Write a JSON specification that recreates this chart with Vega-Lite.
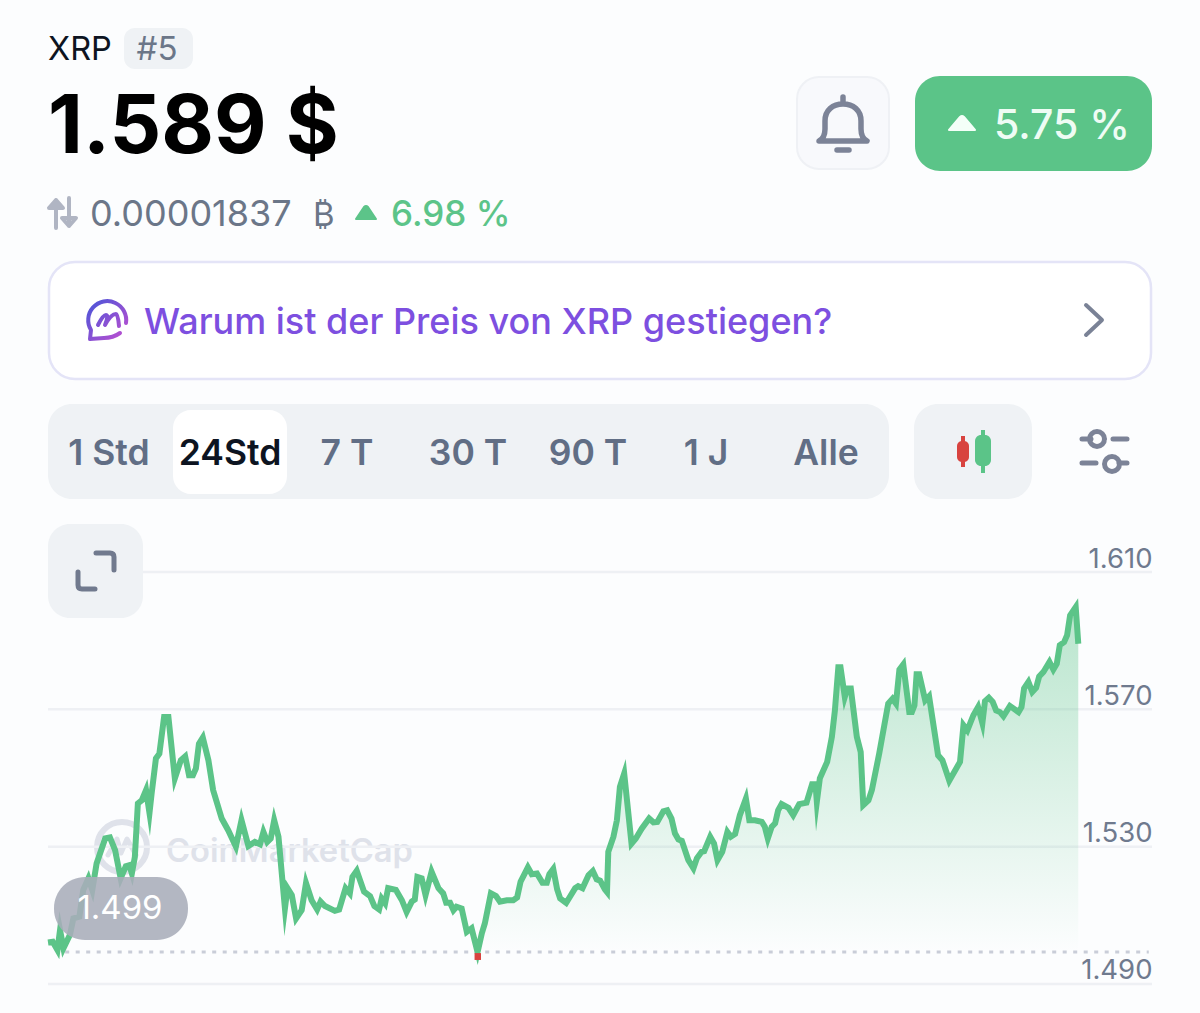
{
  "$schema": "https://vega.github.io/schema/vega-lite/v6.json",
  "width": 1200,
  "height": 1013,
  "autosize": "none",
  "padding": 0,
  "background": "#fcfdfe",
  "datasets": {
    "grid": [{"price": 1.49}, {"price": 1.53}, {"price": 1.57}, {"price": 1.61}],
    "xrp": [
      {"t":0,"price":1.5021},{"t":0.11,"price":1.5023},{"t":0.22,"price":1.4999},{"t":0.28,"price":1.5057},{"t":0.36,"price":1.5004},{"t":0.51,"price":1.5043},{"t":0.59,"price":1.5091},{"t":0.73,"price":1.5096},{"t":0.82,"price":1.5174},{"t":0.94,"price":1.5208},
      {"t":1.03,"price":1.5174},{"t":1.13,"price":1.5251},{"t":1.33,"price":1.5324},{"t":1.44,"price":1.5327},{"t":1.56,"price":1.529},{"t":1.69,"price":1.5208},{"t":1.81,"price":1.5243},{"t":1.89,"price":1.5246},{"t":1.95,"price":1.5222},{"t":2.02,"price":1.527},
      {"t":2.09,"price":1.5426},{"t":2.18,"price":1.5435},{"t":2.28,"price":1.5465},{"t":2.36,"price":1.5398},{"t":2.41,"price":1.5455},{"t":2.51,"price":1.5557},{"t":2.59,"price":1.5571},{"t":2.7,"price":1.5678},{"t":2.8,"price":1.5678},{"t":2.95,"price":1.5499},
      {"t":3.09,"price":1.5552},{"t":3.19,"price":1.5563},{"t":3.28,"price":1.5508},{"t":3.37,"price":1.5508},{"t":3.44,"price":1.5528},{"t":3.51,"price":1.56},{"t":3.6,"price":1.5618},{"t":3.73,"price":1.5552},{"t":3.84,"price":1.5465},{"t":4.04,"price":1.5382},
      {"t":4.19,"price":1.5348},{"t":4.37,"price":1.53},{"t":4.5,"price":1.5377},{"t":4.66,"price":1.5302},{"t":4.81,"price":1.5314},{"t":4.93,"price":1.5307},{"t":5.01,"price":1.5343},{"t":5.1,"price":1.5314},{"t":5.18,"price":1.5324},{"t":5.26,"price":1.5377},
      {"t":5.36,"price":1.5329},{"t":5.51,"price":1.512},{"t":5.57,"price":1.5179},{"t":5.67,"price":1.5159},{"t":5.77,"price":1.5091},{"t":5.9,"price":1.5115},{"t":6,"price":1.5194},{"t":6.13,"price":1.5144},{"t":6.26,"price":1.5117},{"t":6.34,"price":1.514},
      {"t":6.44,"price":1.5127},{"t":6.67,"price":1.5113},{"t":6.77,"price":1.5117},{"t":6.92,"price":1.5179},{"t":7.02,"price":1.5164},{"t":7.08,"price":1.5212},{"t":7.18,"price":1.523},{"t":7.35,"price":1.5169},{"t":7.49,"price":1.5156},{"t":7.59,"price":1.5127},
      {"t":7.7,"price":1.5117},{"t":7.76,"price":1.5149},{"t":7.84,"price":1.5135},{"t":7.91,"price":1.5179},{"t":8.09,"price":1.5174},{"t":8.23,"price":1.5144},{"t":8.34,"price":1.511},{"t":8.46,"price":1.514},{"t":8.53,"price":1.5146},{"t":8.59,"price":1.5212},
      {"t":8.69,"price":1.5208},{"t":8.78,"price":1.5159},{"t":8.92,"price":1.5227},{"t":9.08,"price":1.5179},{"t":9.19,"price":1.5164},{"t":9.26,"price":1.5137},{"t":9.35,"price":1.5137},{"t":9.43,"price":1.5115},{"t":9.5,"price":1.5125},{"t":9.62,"price":1.512},
      {"t":9.74,"price":1.5052},{"t":9.85,"price":1.5062},{"t":9.99,"price":1.4993},{"t":10.09,"price":1.5048},{"t":10.16,"price":1.5077},{"t":10.3,"price":1.5164},{"t":10.42,"price":1.5156},{"t":10.51,"price":1.514},{"t":10.67,"price":1.5144},{"t":10.82,"price":1.5144},
      {"t":10.91,"price":1.5152},{"t":10.99,"price":1.5198},{"t":11.16,"price":1.524},{"t":11.25,"price":1.522},{"t":11.37,"price":1.5222},{"t":11.5,"price":1.5195},{"t":11.6,"price":1.5195},{"t":11.66,"price":1.522},{"t":11.75,"price":1.5235},{"t":11.84,"price":1.5176},
      {"t":11.91,"price":1.5149},{"t":12.05,"price":1.5136},{"t":12.26,"price":1.5179},{"t":12.33,"price":1.5185},{"t":12.43,"price":1.5179},{"t":12.57,"price":1.5217},{"t":12.67,"price":1.5229},{"t":12.76,"price":1.5205},{"t":12.84,"price":1.5201},{"t":12.95,"price":1.5176},
      {"t":13,"price":1.5168},{"t":13.03,"price":1.5285},{"t":13.15,"price":1.5329},{"t":13.23,"price":1.5377},{"t":13.3,"price":1.5474},{"t":13.4,"price":1.5513},{"t":13.57,"price":1.5309},{"t":13.67,"price":1.5324},{"t":13.81,"price":1.5353},{"t":13.98,"price":1.5382},
      {"t":14.08,"price":1.5371},{"t":14.17,"price":1.5372},{"t":14.31,"price":1.5403},{"t":14.4,"price":1.5406},{"t":14.5,"price":1.5382},{"t":14.58,"price":1.5339},{"t":14.66,"price":1.5321},{"t":14.74,"price":1.5317},{"t":14.89,"price":1.5261},{"t":15.01,"price":1.5237},
      {"t":15.09,"price":1.5266},{"t":15.2,"price":1.5285},{"t":15.26,"price":1.5287},{"t":15.4,"price":1.5329},{"t":15.49,"price":1.5309},{"t":15.57,"price":1.5261},{"t":15.68,"price":1.5285},{"t":15.8,"price":1.5343},{"t":15.88,"price":1.5329},{"t":15.98,"price":1.5337},
      {"t":16.09,"price":1.5392},{"t":16.23,"price":1.544},{"t":16.31,"price":1.5377},{"t":16.44,"price":1.5377},{"t":16.6,"price":1.5372},{"t":16.67,"price":1.5358},{"t":16.74,"price":1.5324},{"t":16.83,"price":1.5358},{"t":16.91,"price":1.5368},{"t":16.98,"price":1.5406},
      {"t":17.06,"price":1.5424},{"t":17.22,"price":1.5413},{"t":17.33,"price":1.5392},{"t":17.47,"price":1.5424},{"t":17.64,"price":1.5428},{"t":17.77,"price":1.5482},{"t":17.85,"price":1.5482},{"t":17.88,"price":1.5431},{"t":17.95,"price":1.5499},{"t":18.12,"price":1.5547},
      {"t":18.23,"price":1.562},{"t":18.3,"price":1.5697},{"t":18.38,"price":1.5823},{"t":18.43,"price":1.5823},{"t":18.53,"price":1.5736},{"t":18.59,"price":1.5761},{"t":18.67,"price":1.5761},{"t":18.81,"price":1.562},{"t":18.9,"price":1.5576},{"t":18.96,"price":1.5421},
      {"t":19.08,"price":1.5435},{"t":19.16,"price":1.5465},{"t":19.33,"price":1.5571},{"t":19.54,"price":1.5717},{"t":19.64,"price":1.5731},{"t":19.72,"price":1.5717},{"t":19.8,"price":1.5816},{"t":19.89,"price":1.5831},{"t":20.03,"price":1.5692},{"t":20.09,"price":1.5692},
      {"t":20.15,"price":1.5712},{"t":20.2,"price":1.5802},{"t":20.26,"price":1.5802},{"t":20.4,"price":1.5726},{"t":20.49,"price":1.5738},{"t":20.7,"price":1.5566},{"t":20.8,"price":1.5552},{"t":20.96,"price":1.5492},{"t":21.21,"price":1.5547},{"t":21.29,"price":1.5654},
      {"t":21.38,"price":1.5639},{"t":21.52,"price":1.5683},{"t":21.63,"price":1.5707},{"t":21.73,"price":1.566},{"t":21.79,"price":1.5724},{"t":21.88,"price":1.5734},{"t":21.97,"price":1.5722},{"t":22.05,"price":1.5697},{"t":22.14,"price":1.5692},{"t":22.22,"price":1.568},
      {"t":22.37,"price":1.571},{"t":22.57,"price":1.5692},{"t":22.64,"price":1.5707},{"t":22.7,"price":1.5761},{"t":22.8,"price":1.578},{"t":22.89,"price":1.5751},{"t":22.98,"price":1.5763},{"t":23.05,"price":1.5796},{"t":23.15,"price":1.5809},{"t":23.29,"price":1.5838},
      {"t":23.38,"price":1.5816},{"t":23.46,"price":1.5833},{"t":23.53,"price":1.5887},{"t":23.63,"price":1.5896},{"t":23.7,"price":1.5916},{"t":23.77,"price":1.5974},{"t":23.9,"price":1.5998},{"t":23.96,"price":1.5891}
    ]
  },
  "layer": [
    {
      "data": {"values": [{}]},
      "layer": [
        {"mark": {"type": "rect", "fill": "#eff2f5", "cornerRadius": 11}, "encoding": {"x": {"datum": 124, "scale": {"domain": [0, 1200], "nice": false}}, "x2": {"datum": 193}, "y": {"datum": 28, "scale": {"domain": [1013, 0], "nice": false}}, "y2": {"datum": 69}}},
        {"mark": {"type": "text", "text": "XRP", "fontSize": 32.5, "align": "left", "color": "#0d1421"}, "encoding": {"x": {"datum": 48}, "y": {"datum": 60}}},
        {"mark": {"type": "text", "text": "#5", "fontSize": 33, "align": "center", "color": "#6b7688"}, "encoding": {"x": {"datum": 157}, "y": {"datum": 60}}},
        {"mark": {"type": "text", "text": "1.589 $", "fontSize": 81, "fontWeight": 700, "align": "left", "color": "#000000"}, "encoding": {"x": {"datum": 48}, "y": {"datum": 153}}},
        {"mark": {"type": "point", "shape": "M-6,15 L-6,-13 M-13,-5 L-6,-13 L1,-5 Z M7,-15 L7,13 M0,5 L7,13 L14,5 Z", "stroke": "#b0b5c3", "strokeWidth": 4}, "encoding": {"x": {"datum": 62}, "y": {"datum": 213}}},
        {"mark": {"type": "text", "text": "0.00001837", "fontSize": 36, "align": "left", "color": "#6b7688"}, "encoding": {"x": {"datum": 90}, "y": {"datum": 226}}},
        {"mark": {"type": "text", "text": "₿", "fontSize": 33, "align": "left", "color": "#6b7688"}, "encoding": {"x": {"datum": 313}, "y": {"datum": 226}}},
        {"mark": {"type": "point", "shape": "M-10,7 L-2,-5 Q0,-7 2,-5 L10,7 Z", "filled": true, "fill": "#5cc489", "stroke": "#5cc489", "strokeWidth": 2}, "encoding": {"x": {"datum": 366}, "y": {"datum": 212}}},
        {"mark": {"type": "text", "text": "6.98 %", "fontSize": 35, "fontWeight": 500, "align": "left", "color": "#5cc489"}, "encoding": {"x": {"datum": 391}, "y": {"datum": 226}}},

        {"mark": {"type": "rect", "fill": "#f8f9fc", "stroke": "#eff1f5", "strokeWidth": 2, "cornerRadius": 22}, "encoding": {"x": {"datum": 797}, "x2": {"datum": 889}, "y": {"datum": 77}, "y2": {"datum": 169}}},
        {"mark": {"type": "point", "shape": "M-24,16 C-20,14 -18,10 -18,4 L-18,-4 C-18,-15 -10,-21 0,-21 C10,-21 18,-15 18,-4 L18,4 C18,10 20,14 24,16 Z M0,-21 L0,-28 M-6,25 L6,25", "stroke": "#7c8397", "strokeWidth": 5.5}, "encoding": {"x": {"datum": 843}, "y": {"datum": 125}}},
        {"mark": {"type": "rect", "fill": "#5bc488", "cornerRadius": 25}, "encoding": {"x": {"datum": 915}, "x2": {"datum": 1152}, "y": {"datum": 76}, "y2": {"datum": 171}}},
        {"mark": {"type": "point", "shape": "M-13,7 L-2,-6 Q0,-8 2,-6 L13,7 Z", "filled": true, "fill": "#f4fff8", "stroke": "#f4fff8", "strokeWidth": 2}, "encoding": {"x": {"datum": 962}, "y": {"datum": 123}}},
        {"mark": {"type": "text", "text": "5.75 %", "fontSize": 41, "fontWeight": 500, "align": "left", "color": "#eefcf4"}, "encoding": {"x": {"datum": 994}, "y": {"datum": 139}}},

        {"mark": {"type": "rect", "fill": "#ffffff", "stroke": "#e4e4f7", "strokeWidth": 2.5, "cornerRadius": 26}, "encoding": {"x": {"datum": 49}, "x2": {"datum": 1151}, "y": {"datum": 262}, "y2": {"datum": 379}}},
        {"mark": {"type": "point", "shape": "M-16,10 A19,19 0 1 1 19,3 M13,13 Q6,18 -3,18 L-17,19 L-16,10 M-9,5 Q-4,-5 -1,-5 Q2,-5 -2,5 Q4,-6 9,-6 Q11,-6 12,6", "strokeWidth": 4, "stroke": {"gradient": "linear", "x1": 0, "y1": 0, "x2": 1, "y2": 1, "stops": [{"offset": 0, "color": "#4a55d8"}, {"offset": 1, "color": "#c04fd0"}]}}, "encoding": {"x": {"datum": 107}, "y": {"datum": 320}}},
        {"mark": {"type": "text", "text": "Warum ist der Preis von XRP gestiegen?", "fontSize": 36, "fontWeight": 500, "align": "left", "color": "#7d4fe0"}, "encoding": {"x": {"datum": 144}, "y": {"datum": 334}}},
        {"mark": {"type": "point", "shape": "M-8,-15 L8,0 L-8,15", "stroke": "#7a8296", "strokeWidth": 4}, "encoding": {"x": {"datum": 1094}, "y": {"datum": 320}}},

        {"mark": {"type": "rect", "fill": "#eff2f5", "cornerRadius": 24}, "encoding": {"x": {"datum": 48}, "x2": {"datum": 889}, "y": {"datum": 404}, "y2": {"datum": 499}}},
        {"mark": {"type": "rect", "fill": "#ffffff", "cornerRadius": 18}, "encoding": {"x": {"datum": 173}, "x2": {"datum": 287}, "y": {"datum": 410}, "y2": {"datum": 494}}},
        {"mark": {"type": "text", "text": "1 Std", "fontSize": 35.5, "fontWeight": 600, "align": "center", "color": "#616e85"}, "encoding": {"x": {"datum": 109}, "y": {"datum": 465}}},
        {"mark": {"type": "text", "text": "24Std", "fontSize": 35.5, "fontWeight": 600, "align": "center", "color": "#0d1421"}, "encoding": {"x": {"datum": 230}, "y": {"datum": 465}}},
        {"mark": {"type": "text", "text": "7 T", "fontSize": 35.5, "fontWeight": 600, "align": "center", "color": "#616e85"}, "encoding": {"x": {"datum": 347}, "y": {"datum": 465}}},
        {"mark": {"type": "text", "text": "30 T", "fontSize": 35.5, "fontWeight": 600, "align": "center", "color": "#616e85"}, "encoding": {"x": {"datum": 468}, "y": {"datum": 465}}},
        {"mark": {"type": "text", "text": "90 T", "fontSize": 35.5, "fontWeight": 600, "align": "center", "color": "#616e85"}, "encoding": {"x": {"datum": 588}, "y": {"datum": 465}}},
        {"mark": {"type": "text", "text": "1 J", "fontSize": 35.5, "fontWeight": 600, "align": "center", "color": "#616e85"}, "encoding": {"x": {"datum": 706}, "y": {"datum": 465}}},
        {"mark": {"type": "text", "text": "Alle", "fontSize": 35.5, "fontWeight": 600, "align": "center", "color": "#616e85"}, "encoding": {"x": {"datum": 826}, "y": {"datum": 465}}},

        {"mark": {"type": "rect", "fill": "#eff2f5", "cornerRadius": 24}, "encoding": {"x": {"datum": 914}, "x2": {"datum": 1032}, "y": {"datum": 404}, "y2": {"datum": 499}}},
        {"mark": {"type": "rule", "stroke": "#d8433f", "strokeWidth": 4}, "encoding": {"x": {"datum": 963}, "y": {"datum": 436}, "y2": {"datum": 467}}},
        {"mark": {"type": "rect", "fill": "#d8433f", "cornerRadius": 5}, "encoding": {"x": {"datum": 957}, "x2": {"datum": 969}, "y": {"datum": 441}, "y2": {"datum": 462}}},
        {"mark": {"type": "rule", "stroke": "#5bc488", "strokeWidth": 4}, "encoding": {"x": {"datum": 983}, "y": {"datum": 430}, "y2": {"datum": 473}}},
        {"mark": {"type": "rect", "fill": "#5bc488", "cornerRadius": 6}, "encoding": {"x": {"datum": 975}, "x2": {"datum": 991}, "y": {"datum": 435}, "y2": {"datum": 466}}},
        {"mark": {"type": "point", "shape": "M-22,-12 L-13,-12 M9,-12 L23,-12 M-22,12 L-8,12 M15,12 L23,12", "stroke": "#7c8397", "strokeWidth": 5}, "encoding": {"x": {"datum": 1104}, "y": {"datum": 451}}},
        {"mark": {"type": "point", "shape": "circle", "size": 225, "stroke": "#7c8397", "strokeWidth": 5}, "encoding": {"x": {"datum": 1097}, "y": {"datum": 439}}},
        {"mark": {"type": "point", "shape": "circle", "size": 225, "stroke": "#7c8397", "strokeWidth": 5}, "encoding": {"x": {"datum": 1112}, "y": {"datum": 464}}},

        {"mark": {"type": "point", "shape": "circle", "size": 2500, "stroke": "#dfe2ea", "strokeWidth": 6}, "encoding": {"x": {"datum": 122}, "y": {"datum": 847}}},
        {"mark": {"type": "point", "shape": "M-14,7 L-5,-9 L-1,5 L5,-9 L14,7", "stroke": "#dfe2ea", "strokeWidth": 5}, "encoding": {"x": {"datum": 122}, "y": {"datum": 848}}},
        {"mark": {"type": "text", "text": "CoinMarketCap", "fontSize": 32.7, "fontWeight": 600, "align": "left", "color": "#dfe2ea"}, "encoding": {"x": {"datum": 166}, "y": {"datum": 862}}}
      ]
    },
    {
      "layer": [
        {
          "data": {"name": "grid"},
          "mark": {"type": "rule", "stroke": "#eef0f4", "strokeWidth": 2.5},
          "encoding": {
            "x": {"datum": 0, "axis": null, "scale": {"domain": [-1.11628, 26.7907], "nice": false}},
            "x2": {"datum": 25.674},
            "y": {
              "field": "price",
              "type": "quantitative",
              "scale": {"domain": [1.48155, 1.77664], "nice": false, "zero": false},
              "axis": {"orient": "right", "values": [1.49, 1.53, 1.57, 1.61], "format": ".3f", "title": null, "domain": false, "ticks": false, "grid": false, "labels": true, "labelAlign": "right", "labelBaseline": "alphabetic", "labelPadding": -48, "labelOffset": -5, "labelFontSize": 27.5, "labelColor": "#6f7a8e", "labelFont": "Inter"}
            }
          }
        },
        {
          "data": {"name": "xrp"},
          "transform": [{"filter": "datum.t >= 9.99"}],
          "mark": {
            "type": "area",
            "color": {"gradient": "linear", "x1": 0, "y1": 0, "x2": 0, "y2": 1, "stops": [{"offset": 0, "color": "rgba(92,196,137,0.42)"}, {"offset": 1, "color": "rgba(92,196,137,0)"}]}
          },
          "encoding": {
            "x": {"field": "t", "type": "quantitative", "axis": null},
            "y": {"field": "price", "type": "quantitative", "stack": null},
            "y2": {"datum": 1.4993}
          }
        },
        {
          "data": {"values": [{}]},
          "mark": {"type": "rule", "stroke": "#c9cdd8", "strokeWidth": 3, "strokeDash": [4, 6.5]},
          "encoding": {"x": {"datum": 0.4, "axis": null}, "x2": {"datum": 25.6}, "y": {"datum": 1.4993}}
        },
        {
          "data": {"name": "xrp"},
          "mark": {"type": "line", "stroke": "#5cc488", "strokeWidth": 6, "strokeJoin": "miter", "strokeMiterLimit": 10},
          "encoding": {
            "x": {"field": "t", "type": "quantitative", "axis": null},
            "y": {"field": "price", "type": "quantitative"}
          }
        },
        {
          "data": {"values": [{}]},
          "mark": {"type": "rect", "fill": "#d8433f"},
          "encoding": {"x": {"datum": 9.92, "axis": null}, "x2": {"datum": 10.07}, "y": {"datum": 1.497}, "y2": {"datum": 1.499}}
        }
      ]
    },
    {
      "data": {"values": [{}]},
      "layer": [
        {"mark": {"type": "rect", "fill": "#eff2f5", "cornerRadius": 22}, "encoding": {"x": {"datum": 48, "axis": null, "scale": {"domain": [0, 1200], "nice": false}}, "x2": {"datum": 143}, "y": {"datum": 524, "axis": null, "scale": {"domain": [1013, 0], "nice": false}}, "y2": {"datum": 618}}},
        {"mark": {"type": "point", "shape": "M0,-18 L14,-18 Q18,-18 18,-14 L18,-1", "stroke": "#717a8e", "strokeWidth": 5}, "encoding": {"x": {"datum": 96, "axis": null}, "y": {"datum": 571, "axis": null}}},
        {"mark": {"type": "point", "shape": "M-18,1 L-18,14 Q-18,18 -14,18 L-1,18", "stroke": "#717a8e", "strokeWidth": 5}, "encoding": {"x": {"datum": 96, "axis": null}, "y": {"datum": 571, "axis": null}}},
        {"mark": {"type": "rect", "fill": "#a9adb9", "opacity": 0.88, "cornerRadius": 31}, "encoding": {"x": {"datum": 54, "axis": null}, "x2": {"datum": 188}, "y": {"datum": 877, "axis": null}, "y2": {"datum": 940}}},
        {"mark": {"type": "text", "text": "1.499", "fontSize": 33, "align": "center", "color": "#ffffff"}, "encoding": {"x": {"datum": 120, "axis": null}, "y": {"datum": 919, "axis": null}}}
      ]
    }
  ],
  "resolve": {"scale": {"x": "independent", "y": "independent"}},
  "config": {
    "font": "Inter",
    "view": {"stroke": null},
    "axis": {"domain": false, "ticks": false, "labels": false, "grid": false, "titleOpacity": 0},
    "point": {"opacity": 1, "filled": false, "size": 4, "strokeCap": "round", "strokeJoin": "round"},
    "text": {"baseline": "alphabetic"}
  }
}
